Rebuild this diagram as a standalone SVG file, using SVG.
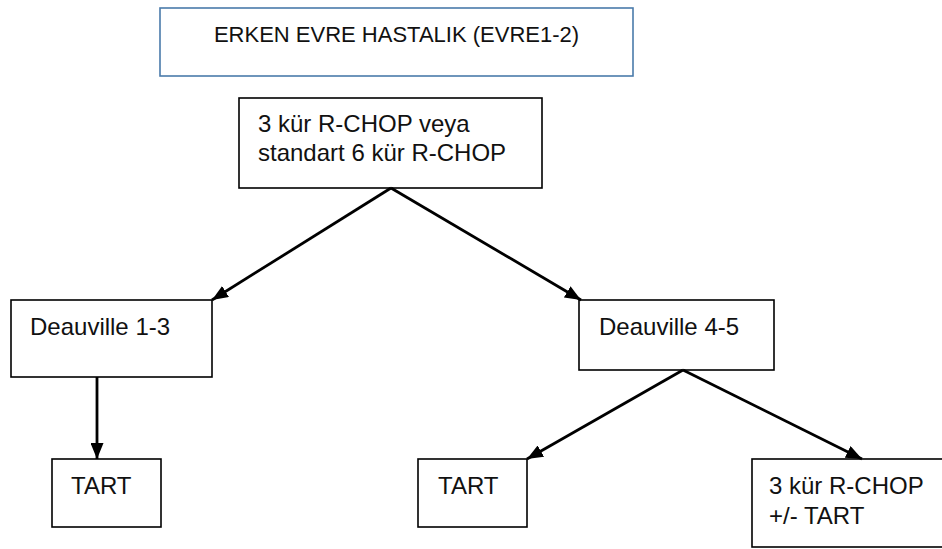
<svg xmlns="http://www.w3.org/2000/svg" width="942" height="549" viewBox="0 0 942 549">
<style>
.box{fill:#fff;stroke:#000;stroke-width:1.6}
.title{fill:#fff;stroke:#4a7bab;stroke-width:1.6}
.t{font-family:"Liberation Sans",Arial,sans-serif;font-size:24px;fill:#111}
.tt{font-family:"Liberation Sans",Arial,sans-serif;font-size:22px;fill:#111}
.c{stroke:#000;stroke-width:2.8;fill:none;marker-end:url(#ah)}
</style>
<defs>
<marker id="ah" markerUnits="userSpaceOnUse" markerWidth="16" markerHeight="13" refX="16" refY="6.5" orient="auto">
<path d="M0,0 L16,6.5 L0,13 z" fill="#000"/>
</marker>
</defs>
<rect width="942" height="549" fill="#fff"/>
<g id="title">
<rect class="title" x="160" y="8" width="473" height="68"/>
<text class="tt" x="396.5" y="42" text-anchor="middle">ERKEN EVRE HASTALIK (EVRE1-2)</text>
</g>
<g id="rchop">
<rect class="box" x="239" y="98" width="303" height="90"/>
<text class="t" x="258" y="132">3 kür R-CHOP veya</text>
<text class="t" x="258" y="161">standart 6 kür R-CHOP</text>
</g>
<g id="d13">
<rect class="box" x="11" y="300" width="201" height="77"/>
<text class="t" x="30" y="335">Deauville 1-3</text>
</g>
<g id="d45">
<rect class="box" x="579" y="300" width="195" height="70"/>
<text class="t" x="599" y="335">Deauville 4-5</text>
</g>
<g id="tart1">
<rect class="box" x="52" y="459" width="109" height="68"/>
<text class="t" x="71" y="494">TART</text>
</g>
<g id="tart2">
<rect class="box" x="418" y="459" width="109" height="68"/>
<text class="t" x="438" y="494">TART</text>
</g>
<g id="rchop3">
<rect class="box" x="752" y="459" width="200" height="88"/>
<text class="t" x="769" y="494">3 kür R-CHOP</text>
<text class="t" x="769" y="524">+/- TART</text>
</g>
<g id="connectors">
<line class="c" x1="391" y1="188" x2="212" y2="300"/>
<line class="c" x1="391" y1="188" x2="581" y2="300"/>
<line class="c" x1="97" y1="377" x2="97" y2="459"/>
<line class="c" x1="683" y1="370" x2="527" y2="459"/>
<line class="c" x1="683" y1="370" x2="862" y2="459"/>
</g>
</svg>
